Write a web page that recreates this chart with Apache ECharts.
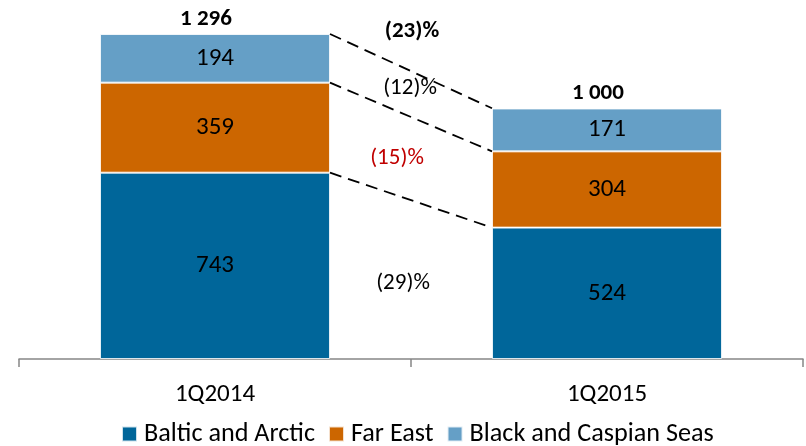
<!DOCTYPE html>
<html>
<head>
<meta charset="utf-8">
<script src="https://cdn.jsdelivr.net/npm/echarts@6/dist/echarts.min.js"></script>
<style>
  html, body { margin: 0; padding: 0; background: #fff; }
  #chart { width: 806px; height: 446px; }
</style>
</head>
<body>
<div id="chart"></div>
<script>
// Quarterly volumes by basin, stacked
const categories = ['1Q2014', '1Q2015'];
const balticArctic = [743, 524];
const farEast = [359, 304];
const blackCaspian = [194, 171];
const totals = [1296, 1000];
const totalLabels = ['1 296', '1 000'];
// Change labels: total, Black & Caspian, Far East, Baltic & Arctic
const changeLabels = ['(23)%', '(12)%', '(15)%', '(29)%'];

const FONT = 'Carlito, "Liberation Sans Narrow", "Liberation Sans", sans-serif';
const BAR_RATIO = 230 / 392;

// Cumulative tops of each stack level, used for connector lines
const levelTops = [
  [balticArctic[0], balticArctic[1]],
  [balticArctic[0] + farEast[0], balticArctic[1] + farEast[1]],
  [totals[0], totals[1]]
];

const chart = echarts.init(document.getElementById('chart'), null, { renderer: 'canvas' });

const segLabel = {
  show: true,
  position: 'inside',
  color: '#000',
  fontFamily: FONT,
  fontSize: 25
};
const segBorder = { borderColor: 'rgba(255,255,255,0.8)', borderWidth: 1 };

function changeText(text, x, y, opts) {
  return {
    type: 'text',
    x: x,
    y: y,
    z: 10,
    style: Object.assign({
      text: text,
      align: 'center',
      verticalAlign: 'middle',
      font: '23px ' + FONT,
      fill: '#000'
    }, opts || {})
  };
}

chart.setOption({
  animation: false,
  textStyle: { fontFamily: FONT },
  grid: { left: 19, right: 3, top: 33, bottom: 87, containLabel: false },
  legend: {
    top: 421,
    left: 121,
    padding: 0,
    itemWidth: 15,
    itemHeight: 15,
    itemGap: 13,
    icon: 'rect',
    textStyle: { fontFamily: FONT, fontSize: 26.2, color: '#000', padding: [0, 0, 0, 2] },
    data: ['Baltic and Arctic', 'Far East', 'Black and Caspian Seas']
  },
  xAxis: {
    type: 'category',
    data: categories,
    axisLine: { lineStyle: { color: '#868686', width: 1.5 } },
    axisTick: { show: true, length: 8, lineStyle: { color: '#868686', width: 1.5 } },
    axisLabel: { color: '#000', fontFamily: FONT, fontSize: 25, margin: 23 }
  },
  yAxis: {
    type: 'value',
    min: 0,
    max: 1300,
    show: false,
    splitLine: { show: false }
  },
  series: [
    {
      name: 'Baltic and Arctic',
      type: 'bar',
      stack: 'total',
      barWidth: (BAR_RATIO * 100).toFixed(2) + '%',
      data: balticArctic,
      itemStyle: Object.assign({ color: '#00669A' }, segBorder),
      label: segLabel
    },
    {
      name: 'Far East',
      type: 'bar',
      stack: 'total',
      data: farEast,
      itemStyle: Object.assign({ color: '#CC6600' }, segBorder),
      label: segLabel
    },
    {
      name: 'Black and Caspian Seas',
      type: 'bar',
      stack: 'total',
      data: blackCaspian,
      itemStyle: Object.assign({ color: '#659FC6' }, segBorder),
      label: segLabel
    },
    {
      // Totals above each stack
      name: 'totals',
      type: 'custom',
      data: totals.map((v, i) => [i, v]),
      renderItem: function (params, api) {
        const p = api.coord([api.value(0), api.value(1)]);
        return {
          type: 'text',
          style: {
            text: totalLabels[params.dataIndex],
            x: p[0] - 9,
            y: p[1] - 15,
            align: 'center',
            verticalAlign: 'middle',
            font: 'bold 23px ' + FONT,
            fill: '#000'
          }
        };
      },
      z: 5
    },
    {
      // Dashed connectors between matching stack levels
      name: 'connectors',
      type: 'custom',
      data: levelTops.map(t => [0, t[0], t[1]]),
      renderItem: function (params, api) {
        const band = api.size([1, 0])[0];
        const half = band * BAR_RATIO / 2;
        const a = api.coord([0, api.value(1)]);
        const b = api.coord([1, api.value(2)]);
        return {
          type: 'line',
          shape: { x1: a[0] + half, y1: a[1], x2: b[0] - half, y2: b[1] },
          style: { stroke: '#000', lineWidth: 1.8, lineDash: [12, 7] }
        };
      },
      z: 4
    }
  ],
  graphic: [
    changeText(changeLabels[0], 412, 31, { font: 'bold 23px ' + FONT }),
    changeText(changeLabels[1], 410, 88),
    changeText(changeLabels[2], 397, 158, { fill: '#C00000' }),
    changeText(changeLabels[3], 403, 283)
  ]
});
</script>
</body>
</html>
